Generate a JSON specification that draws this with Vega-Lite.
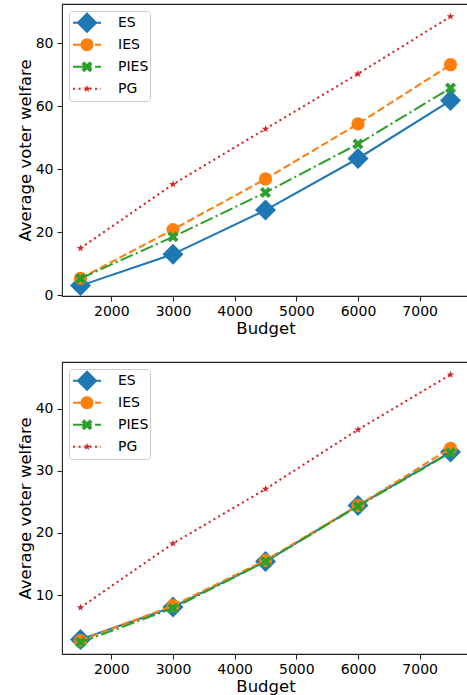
{
  "$schema": "https://vega.github.io/schema/vega-lite/v6.json",
  "padding": {"left": 16, "top": 3, "right": 0, "bottom": 0},
  "spacing": 23,
  "config": {
    "font": "DejaVu Sans",
    "view": {"stroke": "#222", "strokeWidth": 1.1},
    "axis": {"grid": false, "domain": false, "tickColor": "#222", "tickWidth": 1.1, "tickSize": 5, "labelColor": "#000", "labelFont": "DejaVu Sans", "labelFontSize": 14, "titleColor": "#000", "titleFont": "DejaVu Sans", "titleFontSize": 16.5, "titleFontWeight": "normal", "labelFlush": false, "labelOverlap": false},
    "axisX": {"labelPadding": 3, "titlePadding": 2, "format": "d"},
    "axisY": {"labelPadding": 4, "titlePadding": 2},
    "legend": {"orient": "top-left", "offset": 7, "title": null, "padding": 1, "symbolSize": 784, "symbolStrokeWidth": 0, "symbolOpacity": 1, "symbolOffset": 3, "clipHeight": 21.3, "labelFontSize": 14, "labelFont": "DejaVu Sans", "labelColor": "#000", "labelOffset": 17, "rowPadding": 0, "gridAlign": "all", "strokeColor": "#cccccc", "fillColor": "rgba(255,255,255,0.8)", "cornerRadius": 3}
  },
  "datasets": {
    "top": [
      {"method": "ES", "budget": 1500, "welfare": 3.0},
      {"method": "ES", "budget": 3000, "welfare": 13.0},
      {"method": "ES", "budget": 4500, "welfare": 27.0},
      {"method": "ES", "budget": 6000, "welfare": 43.4},
      {"method": "ES", "budget": 7500, "welfare": 61.8},
      {"method": "IES", "budget": 1500, "welfare": 5.3},
      {"method": "IES", "budget": 3000, "welfare": 20.8},
      {"method": "IES", "budget": 4500, "welfare": 36.9},
      {"method": "IES", "budget": 6000, "welfare": 54.4},
      {"method": "IES", "budget": 7500, "welfare": 73.2},
      {"method": "PIES", "budget": 1500, "welfare": 5.3},
      {"method": "PIES", "budget": 3000, "welfare": 18.5},
      {"method": "PIES", "budget": 4500, "welfare": 32.6},
      {"method": "PIES", "budget": 6000, "welfare": 48.0},
      {"method": "PIES", "budget": 7500, "welfare": 65.8},
      {"method": "PG", "budget": 1500, "welfare": 14.9},
      {"method": "PG", "budget": 3000, "welfare": 35.2},
      {"method": "PG", "budget": 4500, "welfare": 52.8},
      {"method": "PG", "budget": 6000, "welfare": 70.3},
      {"method": "PG", "budget": 7500, "welfare": 88.5}
    ],
    "bottom": [
      {"method": "ES", "budget": 1500, "welfare": 2.85},
      {"method": "ES", "budget": 3000, "welfare": 8.1},
      {"method": "ES", "budget": 4500, "welfare": 15.4},
      {"method": "ES", "budget": 6000, "welfare": 24.4},
      {"method": "ES", "budget": 7500, "welfare": 33.0},
      {"method": "IES", "budget": 1500, "welfare": 2.7},
      {"method": "IES", "budget": 3000, "welfare": 8.3},
      {"method": "IES", "budget": 4500, "welfare": 15.6},
      {"method": "IES", "budget": 6000, "welfare": 24.4},
      {"method": "IES", "budget": 7500, "welfare": 33.6},
      {"method": "PIES", "budget": 1500, "welfare": 2.4},
      {"method": "PIES", "budget": 3000, "welfare": 7.9},
      {"method": "PIES", "budget": 4500, "welfare": 15.4},
      {"method": "PIES", "budget": 6000, "welfare": 24.3},
      {"method": "PIES", "budget": 7500, "welfare": 32.9},
      {"method": "PG", "budget": 1500, "welfare": 8.0},
      {"method": "PG", "budget": 3000, "welfare": 18.3},
      {"method": "PG", "budget": 4500, "welfare": 27.05},
      {"method": "PG", "budget": 6000, "welfare": 36.6},
      {"method": "PG", "budget": 7500, "welfare": 45.45}
    ]
  },
  "resolve": {"scale": {"color": "independent", "shape": "independent"}},
  "vconcat": [
    {
      "width": 407,
      "height": 292,
      "data": {"name": "top"},
      "encoding": {
        "x": {"field": "budget", "type": "quantitative", "scale": {"domain": [1200, 7800], "nice": false, "zero": false}, "axis": {"values": [2000, 3000, 4000, 5000, 6000, 7000], "title": "Budget"}},
        "y": {"field": "welfare", "type": "quantitative", "scale": {"domain": [-0.3, 92.5], "nice": false, "zero": false}, "axis": {"values": [0, 20, 40, 60, 80], "title": "Average voter welfare"}}
      },
      "layer": [
        {
          "transform": [{"filter": "false"}],
          "mark": {"type": "point", "filled": true, "opacity": 1},
          "encoding": {
            "color": {"field": "method", "type": "nominal", "scale": {"domain": ["ES", "IES", "PIES", "PG"], "range": ["#1f77b4", "#ff7f0e", "#2ca02c", "#d62728"]}, "legend": {"labelExpr": "datum.label + ' '"}},
            "shape": {"field": "method", "type": "nominal", "scale": {"domain": ["ES", "IES", "PIES", "PG"], "range": [
              "M-1,-0.76M1,0.76M-1,-0.0714H1V0.0714H-1ZM0,-0.75L0.75,0L0,0.75L-0.75,0Z",
              "M-1,-0.76M1,0.76M-1,-0.0714H-0.45V0.0714H-1ZM-0.214,-0.0714H0.336V0.0714H-0.214ZM0.571,-0.0714H1V0.0714H0.571ZM0.464,0A0.464,0.464,0,1,1,-0.464,0A0.464,0.464,0,1,1,0.464,0Z",
              "M-1,-0.76M1,0.76M-1,-0.0714H-0.05V0.0714H-1ZM0.186,-0.0714H0.336V0.0714H0.186ZM0.571,-0.0714H1V0.0714H0.571ZM-0.197,-0.393L0,-0.197L0.197,-0.393L0.393,-0.197L0.197,0L0.393,0.197L0.197,0.393L0,0.197L-0.197,0.393L-0.393,0.197L-0.197,0L-0.393,-0.197Z",
              "M-1,-0.76M1,0.76M-1,-0.0714H-0.85V0.0714H-1ZM-0.607,-0.0714H-0.457V0.0714H-0.607ZM-0.214,-0.0714H-0.064V0.0714H-0.214ZM0.179,-0.0714H0.329V0.0714H0.179ZM0.571,-0.0714H0.721V0.0714H0.571ZM0.964,-0.0714H1V0.0714H0.964ZM0,-0.286L0.064,-0.088L0.272,-0.088L0.104,0.034L0.168,0.231L0,0.109L-0.168,0.231L-0.104,0.034L-0.272,-0.088L-0.064,-0.088Z"
            ]}, "legend": {"labelExpr": "datum.label + ' '"}}
          }
        },
        {"transform": [{"filter": "datum.method === 'ES'"}], "mark": {"type": "line", "color": "#1f77b4", "strokeWidth": 2.08, "strokeJoin": "round"}, "encoding": {}},
        {"transform": [{"filter": "datum.method === 'ES'"}], "mark": {"type": "point", "shape": "diamond", "size": 441, "filled": true, "opacity": 1, "color": "#1f77b4"}, "encoding": {}},
        {"transform": [{"filter": "datum.method === 'IES'"}], "mark": {"type": "line", "color": "#ff7f0e", "strokeWidth": 2.08, "strokeDash": [7.7, 3.3], "strokeJoin": "round"}, "encoding": {}},
        {"transform": [{"filter": "datum.method === 'IES'"}], "mark": {"type": "point", "shape": "circle", "size": 175, "filled": true, "opacity": 1, "color": "#ff7f0e"}, "encoding": {}},
        {"transform": [{"filter": "datum.method === 'PIES'"}], "mark": {"type": "line", "color": "#2ca02c", "strokeWidth": 2.08, "strokeDash": [13.3, 3.3, 2.1, 3.3], "strokeJoin": "round"}, "encoding": {}},
        {"transform": [{"filter": "datum.method === 'PIES'"}], "mark": {"type": "point", "shape": "M-0.5,-1L0,-0.5L0.5,-1L1,-0.5L0.5,0L1,0.5L0.5,1L0,0.5L-0.5,1L-1,0.5L-0.5,0L-1,-0.5Z", "size": 121, "filled": true, "opacity": 1, "color": "#2ca02c"}, "encoding": {}},
        {"transform": [{"filter": "datum.method === 'PG'"}], "mark": {"type": "line", "color": "#d62728", "strokeWidth": 2.08, "strokeDash": [2.1, 3.4], "strokeJoin": "round"}, "encoding": {}},
        {"transform": [{"filter": "datum.method === 'PG'"}], "mark": {"type": "point", "shape": "M0,-1L0.225,-0.309L0.951,-0.309L0.363,0.118L0.588,0.809L0,0.382L-0.588,0.809L-0.363,0.118L-0.951,-0.309L-0.225,-0.309Z", "size": 64, "filled": true, "opacity": 1, "color": "#d62728"}, "encoding": {}}
      ]
    },
    {
      "width": 407,
      "height": 292,
      "data": {"name": "bottom"},
      "encoding": {
        "x": {"field": "budget", "type": "quantitative", "scale": {"domain": [1200, 7800], "nice": false, "zero": false}, "axis": {"values": [2000, 3000, 4000, 5000, 6000, 7000], "title": "Budget"}},
        "y": {"field": "welfare", "type": "quantitative", "scale": {"domain": [0.53, 47.48], "nice": false, "zero": false}, "axis": {"values": [10, 20, 30, 40], "title": "Average voter welfare"}}
      },
      "layer": [
        {
          "transform": [{"filter": "false"}],
          "mark": {"type": "point", "filled": true, "opacity": 1},
          "encoding": {
            "color": {"field": "method", "type": "nominal", "scale": {"domain": ["ES", "IES", "PIES", "PG"], "range": ["#1f77b4", "#ff7f0e", "#2ca02c", "#d62728"]}, "legend": {"labelExpr": "datum.label + ' '"}},
            "shape": {"field": "method", "type": "nominal", "scale": {"domain": ["ES", "IES", "PIES", "PG"], "range": [
              "M-1,-0.76M1,0.76M-1,-0.0714H1V0.0714H-1ZM0,-0.75L0.75,0L0,0.75L-0.75,0Z",
              "M-1,-0.76M1,0.76M-1,-0.0714H-0.45V0.0714H-1ZM-0.214,-0.0714H0.336V0.0714H-0.214ZM0.571,-0.0714H1V0.0714H0.571ZM0.464,0A0.464,0.464,0,1,1,-0.464,0A0.464,0.464,0,1,1,0.464,0Z",
              "M-1,-0.76M1,0.76M-1,-0.0714H-0.05V0.0714H-1ZM0.186,-0.0714H0.336V0.0714H0.186ZM0.571,-0.0714H1V0.0714H0.571ZM-0.197,-0.393L0,-0.197L0.197,-0.393L0.393,-0.197L0.197,0L0.393,0.197L0.197,0.393L0,0.197L-0.197,0.393L-0.393,0.197L-0.197,0L-0.393,-0.197Z",
              "M-1,-0.76M1,0.76M-1,-0.0714H-0.85V0.0714H-1ZM-0.607,-0.0714H-0.457V0.0714H-0.607ZM-0.214,-0.0714H-0.064V0.0714H-0.214ZM0.179,-0.0714H0.329V0.0714H0.179ZM0.571,-0.0714H0.721V0.0714H0.571ZM0.964,-0.0714H1V0.0714H0.964ZM0,-0.286L0.064,-0.088L0.272,-0.088L0.104,0.034L0.168,0.231L0,0.109L-0.168,0.231L-0.104,0.034L-0.272,-0.088L-0.064,-0.088Z"
            ]}, "legend": {"labelExpr": "datum.label + ' '"}}
          }
        },
        {"transform": [{"filter": "datum.method === 'ES'"}], "mark": {"type": "line", "color": "#1f77b4", "strokeWidth": 2.08, "strokeJoin": "round"}, "encoding": {}},
        {"transform": [{"filter": "datum.method === 'ES'"}], "mark": {"type": "point", "shape": "diamond", "size": 441, "filled": true, "opacity": 1, "color": "#1f77b4"}, "encoding": {}},
        {"transform": [{"filter": "datum.method === 'IES'"}], "mark": {"type": "line", "color": "#ff7f0e", "strokeWidth": 2.08, "strokeDash": [7.7, 3.3], "strokeJoin": "round"}, "encoding": {}},
        {"transform": [{"filter": "datum.method === 'IES'"}], "mark": {"type": "point", "shape": "circle", "size": 175, "filled": true, "opacity": 1, "color": "#ff7f0e"}, "encoding": {}},
        {"transform": [{"filter": "datum.method === 'PIES'"}], "mark": {"type": "line", "color": "#2ca02c", "strokeWidth": 2.08, "strokeDash": [13.3, 3.3, 2.1, 3.3], "strokeJoin": "round"}, "encoding": {}},
        {"transform": [{"filter": "datum.method === 'PIES'"}], "mark": {"type": "point", "shape": "M-0.5,-1L0,-0.5L0.5,-1L1,-0.5L0.5,0L1,0.5L0.5,1L0,0.5L-0.5,1L-1,0.5L-0.5,0L-1,-0.5Z", "size": 121, "filled": true, "opacity": 1, "color": "#2ca02c"}, "encoding": {}},
        {"transform": [{"filter": "datum.method === 'PG'"}], "mark": {"type": "line", "color": "#d62728", "strokeWidth": 2.08, "strokeDash": [2.1, 3.4], "strokeJoin": "round"}, "encoding": {}},
        {"transform": [{"filter": "datum.method === 'PG'"}], "mark": {"type": "point", "shape": "M0,-1L0.225,-0.309L0.951,-0.309L0.363,0.118L0.588,0.809L0,0.382L-0.588,0.809L-0.363,0.118L-0.951,-0.309L-0.225,-0.309Z", "size": 64, "filled": true, "opacity": 1, "color": "#d62728"}, "encoding": {}}
      ]
    }
  ]
}
